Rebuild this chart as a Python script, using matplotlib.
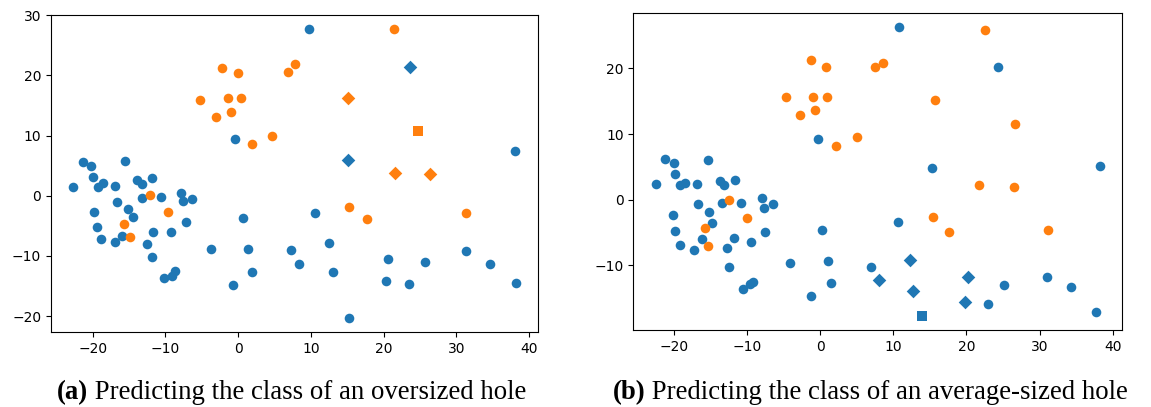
"""Two t-SNE style scatter panels with sub-figure captions."""
from __future__ import annotations

import matplotlib

matplotlib.use("Agg")
import matplotlib.pyplot as plt
import numpy as np

BLUE = "#1f77b4"
ORANGE = "#ff7f0e"

# panel (a): oversized hole
A_BLUE_X = [-0.4, -22.7, -21.4, -20.3, -20.0, -19.3, -18.6, -16.9, -15.6, -13.9, -13.2, -11.8,
            -10.6, -13.2, -16.6, -15.2, -14.5, -19.8, -19.4, -18.8, -16.9, -16.0, -12.5, -11.7,
            -11.9, -9.2, -10.2, -9.05, -8.7, -7.9, -7.6, -6.3, -7.2, -3.8, 0.69, 1.4, 1.9, -0.65,
            7.3, 8.4, 9.8, 38.1, 10.6, 12.5, 13.0, 20.6, 20.3, 23.55, 25.7, 31.4, 34.7, 38.2, 15.2]
A_BLUE_Y = [9.5, 1.45, 5.6, 4.9, 3.2, 1.5, 2.1, 1.7, 5.8, 2.6, 2.0, 3.0,
            -0.2, -0.4, -1.0, -2.2, -3.5, -2.7, -5.2, -7.2, -7.7, -6.7, -8.0, -6.0,
            -10.2, -6.1, -13.7, -13.4, -12.5, 0.5, -0.8, -0.5, -4.4, -8.9, -3.7, -8.8, -12.6, -14.9,
            -9.0, -11.3, 27.7, 7.5, -2.9, -7.8, -12.6, -10.5, -14.2, -14.6, -11.0, -9.1, -11.4, -14.5, -20.25]
A_ORANGE_X = [-2.25, 0.0, -5.2, -1.4, 0.37, -3.1, -0.96, 1.97, 4.7, 6.8, 7.85,
              -12.1, -9.7, -15.7, -14.9, 21.5, 15.3, 17.7, 31.4]
A_ORANGE_Y = [21.2, 20.4, 16.0, 16.3, 16.2, 13.1, 14.0, 8.6, 10.0, 20.5, 21.9,
              0.1, -2.7, -4.7, -6.9, 27.7, -1.9, -3.9, -2.9]
A_BLUE_DIAMOND_X = [23.6, 15.05]
A_BLUE_DIAMOND_Y = [21.4, 5.9]
A_ORANGE_DIAMOND_X = [15.1, 21.6, 26.4]
A_ORANGE_DIAMOND_Y = [16.2, 3.8, 3.6]
A_ORANGE_SQUARE_X = [24.8]
A_ORANGE_SQUARE_Y = [10.8]

# panel (b): average-sized hole
B_BLUE_X = [-0.27, -22.5, -21.2, -20.0, -19.9, -19.2, -18.4, -16.8, -15.3, -13.75, -13.1, -11.6,
            -10.75, -13.4, -16.7, -15.2, -14.75, -20.1, -19.8, -19.2, -17.3, -16.2, -12.75, -11.8,
            -12.5, -9.4, -10.6, -9.6, -9.15, -7.9, -7.65, -6.4, -7.55, -4.1, 0.3, 1.1, 1.45, -1.2,
            10.8, 24.3, 15.3, 38.2, 10.6, 6.9, 25.2, 23.0, 31.05, 34.3, 37.75]
B_BLUE_Y = [9.3, 2.4, 6.2, 5.6, 3.9, 2.2, 2.5, 2.45, 6.0, 2.8, 2.2, 3.05,
            -0.55, -0.45, -0.65, -1.9, -3.5, -2.3, -4.8, -7.0, -7.7, -6.0, -7.4, -5.85,
            -10.3, -6.5, -13.7, -12.9, -12.6, 0.2, -1.3, -0.7, -4.9, -9.6, -4.6, -9.3, -12.7, -14.65,
            26.3, 20.2, 4.8, 5.15, -3.4, -10.3, -13.0, -15.9, -11.75, -13.3, -17.1]
B_ORANGE_X = [-1.3, 0.8, -4.7, -0.96, 0.96, -2.7, -0.7, 2.2, 5.0, -12.4, -10.0, -15.8, -15.3,
              22.5, 7.5, 8.65, 15.7, 26.7, 21.7, 26.5, 15.5, 17.6, 31.2]
B_ORANGE_Y = [21.3, 20.2, 15.7, 15.7, 15.7, 12.9, 13.6, 8.1, 9.5, 0.0, -2.8, -4.4, -7.1,
              25.9, 20.2, 20.9, 15.2, 11.6, 2.2, 1.9, -2.7, -5.0, -4.6]
B_BLUE_DIAMOND_X = [12.3, 8.1, 12.7, 20.2, 19.8]
B_BLUE_DIAMOND_Y = [-9.2, -12.3, -13.9, -11.75, -15.6]
B_BLUE_SQUARE_X = [13.9]
B_BLUE_SQUARE_Y = [-17.75]

CAPTION_A = ("(a)", "Predicting the class of an oversized hole")
CAPTION_B = ("(b)", "Predicting the class of an average-sized hole")

W, H = 1151, 407
MARKER_S = 48


def draw_panel(ax, groups):
    for xs, ys, color, marker, size in groups:
        ax.scatter(xs, ys, c=color, marker=marker, s=size, linewidths=0)
    ax.tick_params(labelsize=10)


def caption(fig, center_px, baseline_px, bold_part, rest):
    renderer = fig.canvas.get_renderer()
    kw = dict(family="Liberation Serif", fontsize=19.3, va="baseline")
    t1 = fig.text(0, baseline_px / H, bold_part, fontweight="bold", **kw)
    t2 = fig.text(0, baseline_px / H, " " + rest, **kw)
    w1 = t1.get_window_extent(renderer).width
    w2 = t2.get_window_extent(renderer).width
    left = center_px - (w1 + w2) / 2
    t1.set_x(left / W)
    t2.set_x((left + w1) / W)


def main() -> None:
    fig = plt.figure(figsize=(W / 100, H / 100), dpi=100)
    ax_a = fig.add_axes([51 / W, (H - 332) / H, 487 / W, 317.3 / H])
    ax_b = fig.add_axes([633.3 / W, (H - 330.4) / H, 488.4 / W, 317.7 / H])

    draw_panel(ax_a, [
        (A_BLUE_X, A_BLUE_Y, BLUE, "o", MARKER_S),
        (A_ORANGE_X, A_ORANGE_Y, ORANGE, "o", MARKER_S),
        (A_BLUE_DIAMOND_X, A_BLUE_DIAMOND_Y, BLUE, "D", MARKER_S),
        (A_ORANGE_DIAMOND_X, A_ORANGE_DIAMOND_Y, ORANGE, "D", MARKER_S),
        (A_ORANGE_SQUARE_X, A_ORANGE_SQUARE_Y, ORANGE, "s", MARKER_S),
    ])
    draw_panel(ax_b, [
        (B_BLUE_X, B_BLUE_Y, BLUE, "o", MARKER_S),
        (B_ORANGE_X, B_ORANGE_Y, ORANGE, "o", MARKER_S),
        (B_BLUE_DIAMOND_X, B_BLUE_DIAMOND_Y, BLUE, "D", MARKER_S),
        (B_BLUE_SQUARE_X, B_BLUE_SQUARE_Y, BLUE, "s", MARKER_S),
    ])
    ax_a.set_yticks(np.arange(-20, 31, 10))
    ax_b.set_yticks(np.arange(-10, 21, 10))

    caption(fig, 292, H - 399, *CAPTION_A)
    caption(fig, 870.5, H - 399, *CAPTION_B)

    fig.savefig("out.png", dpi=100)
    plt.close(fig)


if __name__ == "__main__":
    main()
